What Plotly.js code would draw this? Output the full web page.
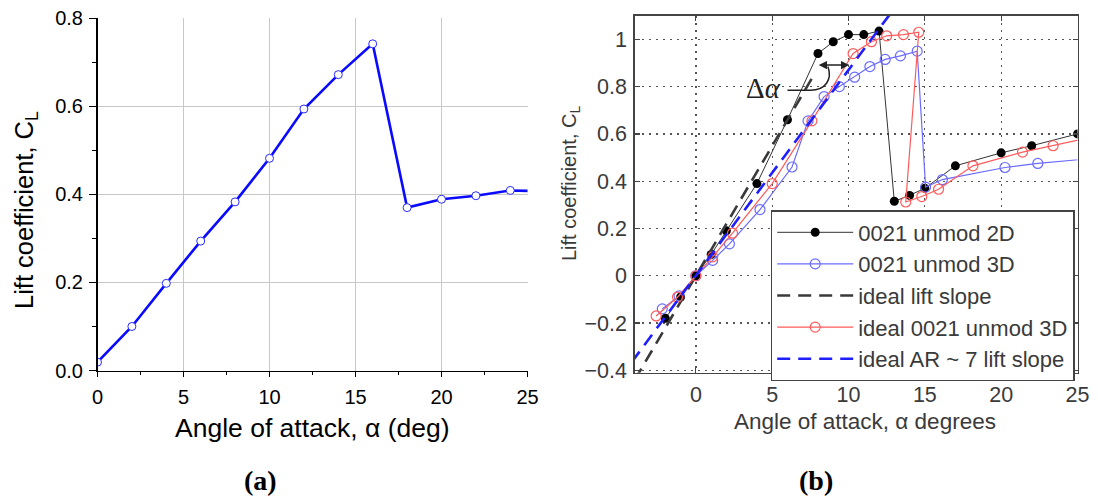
<!DOCTYPE html>
<html>
<head>
<meta charset="utf-8">
<script src="https://cdn.plot.ly/plotly-3.0.1.min.js"></script>
<style>html,body{margin:0;padding:0;background:#fff;}#chart{width:1098px;height:498px;}</style>
</head>
<body>
<div id="chart"></div>
<script>
// ---- Panel (a) data ----
const alphaA = [0, 2, 4, 6, 8, 10, 12, 14, 16, 18, 20, 22, 24, 26];
const clA    = [0.019, 0.100, 0.198, 0.294, 0.383, 0.482, 0.594, 0.672, 0.742, 0.370, 0.389, 0.397, 0.409, 0.407];

// ---- Panel (b) data ----
const alpha2D = [-2, -1, 0, 1, 2, 4, 6, 8, 9, 10, 11, 12, 13, 14, 15, 17, 20, 22, 25];
const cl2D    = [-0.18, -0.09, 0, 0.09, 0.19, 0.39, 0.66, 0.94, 0.99, 1.02, 1.02, 1.035, 0.315, 0.34, 0.37, 0.465, 0.52, 0.55, 0.60];

const alpha3D = [-2.2, -1.1, 0, 1.1, 2.2, 4.2, 6.3, 7.35, 8.4, 9.4, 10.4, 11.4, 12.4, 13.4, 14.5, 15.05, 16.15, 20.25, 22.4, 26.6];
const cl3D    = [-0.14, -0.085, 0, 0.065, 0.135, 0.28, 0.46, 0.655, 0.758, 0.80, 0.84, 0.885, 0.915, 0.93, 0.95, 0.375, 0.407, 0.458, 0.475, 0.50];

const alphaIdeal3D = [-2.6, -1.2, 0, 1.1, 2.4, 5.0, 7.6, 10.3, 11.5, 12.5, 13.6, 14.6, 13.75, 14.8, 15.9, 18.15, 21.4, 23.4, 26.6];
const clIdeal3D    = [-0.17, -0.09, 0, 0.08, 0.18, 0.39, 0.655, 0.94, 0.99, 1.015, 1.02, 1.03, 0.312, 0.335, 0.366, 0.465, 0.523, 0.55, 0.595];

const alphaIdealSlope = [-4, 7.6];
const clIdealSlope    = [-0.44, 0.835];

const alphaAR7 = [-4.2, 12.8];
const clAR7    = [-0.365, 1.114];

const legendNames = ['0021 unmod 2D', '0021 unmod 3D', 'ideal lift slope', 'ideal 0021 unmod 3D', 'ideal AR ~ 7 lift slope'];

const W = 1098, H = 498;
const px = v => v / W;
const py = v => 1 - v / H;

const SANS = 'Liberation Sans, Arial, sans-serif';
const SERIF = 'Liberation Serif, Times New Roman, serif';

const traces = [
  {x: alphaA, y: clA, xaxis: 'x', yaxis: 'y', mode: 'lines+markers', showlegend: false,
   line: {color: '#0a0aff', width: 2.6},
   marker: {symbol: 'circle', size: 8, color: '#ffffff', line: {color: '#2a2aff', width: 1}}},
  {x: alpha2D, y: cl2D, xaxis: 'x2', yaxis: 'y2', mode: 'lines+markers', name: legendNames[0],
   line: {color: '#333333', width: 1},
   marker: {symbol: 'circle', size: 9, color: '#000000'}},
  {x: alpha3D, y: cl3D, xaxis: 'x2', yaxis: 'y2', mode: 'lines+markers', name: legendNames[1],
   line: {color: '#6a6aff', width: 1.2},
   marker: {symbol: 'circle-open', size: 10, color: '#6a6aff', line: {width: 1.2}}},
  {x: alphaIdealSlope, y: clIdealSlope, xaxis: 'x2', yaxis: 'y2', mode: 'lines', name: legendNames[2],
   line: {color: '#3a3a3a', width: 2.6, dash: '13px,8px'}},
  {x: alphaIdeal3D, y: clIdeal3D, xaxis: 'x2', yaxis: 'y2', mode: 'lines+markers', name: legendNames[3],
   line: {color: '#ff5a5a', width: 1.2},
   marker: {symbol: 'circle-open', size: 10, color: '#ff5a5a', line: {width: 1.2}}},
  {x: alphaAR7, y: clAR7, xaxis: 'x2', yaxis: 'y2', mode: 'lines', name: legendNames[4],
   line: {color: '#1e1eff', width: 2.6, dash: '13px,8px'}}
];

const layout = {
  width: W, height: H,
  margin: {l: 0, r: 0, t: 0, b: 0},
  paper_bgcolor: '#ffffff', plot_bgcolor: '#ffffff',
  font: {family: SANS, color: '#000'},
  showlegend: true,
  xaxis: {
    domain: [px(97.5), px(527.5)], range: [0, 25], anchor: 'y',
    tick0: 0, dtick: 5, showgrid: true, gridcolor: '#c8c8c8', gridwidth: 1,
    showline: true, linecolor: '#000', linewidth: 1.5, zeroline: false,
    ticks: 'outside', ticklen: 5, tickwidth: 1.2, tickcolor: '#000',
    minor: {dtick: 2.5, ticks: 'outside', ticklen: 3, tickcolor: '#000', tickwidth: 1.2, showgrid: false},
    tickfont: {size: 20, color: '#000', family: SANS}, ticklabelstandoff: 3
  },
  yaxis: {
    domain: [py(370.5), py(18.3)], range: [0, 0.8], anchor: 'x',
    tick0: 0, dtick: 0.2, tickformat: '.1f', showgrid: true, gridcolor: '#c8c8c8', gridwidth: 1,
    showline: true, linecolor: '#000', linewidth: 1.5, zeroline: false,
    ticks: 'outside', ticklen: 7, tickwidth: 1.2, tickcolor: '#000',
    minor: {dtick: 0.1, ticks: 'outside', ticklen: 4, tickcolor: '#000', tickwidth: 1.2, showgrid: false},
    tickfont: {size: 20, color: '#000', family: SANS}, ticklabelstandoff: 2
  },
  xaxis2: {
    domain: [px(634.8), px(1077.5)], range: [-4, 25], anchor: 'y2',
    tick0: 0, dtick: 5, showgrid: true, gridcolor: '#555', gridwidth: 1.3, griddash: '2px,5px',
    showline: true, linecolor: '#444', linewidth: 1.5, mirror: 'ticks', zeroline: false,
    ticks: 'inside', ticklen: 5, tickcolor: '#444', tickwidth: 1.2,
    tickfont: {size: 21.5, color: '#3a3a3a', family: SANS}, ticklabelstandoff: 2
  },
  yaxis2: {
    domain: [py(372.7), py(15.7)], range: [-0.41, 1.1], anchor: 'x2',
    tick0: 0, dtick: 0.2, showgrid: true, gridcolor: '#555', gridwidth: 1.3, griddash: '2px,5px',
    showline: true, linecolor: '#444', linewidth: 1.5, mirror: 'ticks', zeroline: false,
    ticks: 'inside', ticklen: 5, tickcolor: '#444', tickwidth: 1.2,
    tickfont: {size: 21.5, color: '#3a3a3a', family: SANS}, ticklabelstandoff: 2
  },
  legend: {
    x: px(770.7), y: py(210), xanchor: 'left', yanchor: 'top',
    bgcolor: '#ffffff', bordercolor: '#444', borderwidth: 1.5,
    font: {size: 22, color: '#3a3a3a', family: SANS},
    itemwidth: 76, tracegroupgap: 0
  },
  annotations: [
    {xref: 'paper', yref: 'paper', x: px(312), y: py(428), text: 'Angle of attack, α (deg)',
     showarrow: false, xanchor: 'center', yanchor: 'middle', font: {size: 26.5, color: '#000', family: SANS}},
    {xref: 'paper', yref: 'paper', x: px(26), y: py(210), text: 'Lift coefficient, C<sub>L</sub>',
     textangle: -90, showarrow: false, xanchor: 'center', yanchor: 'middle', font: {size: 25.5, color: '#000', family: SANS}},
    {xref: 'paper', yref: 'paper', x: px(865), y: py(421.7), text: 'Angle of attack, α degrees',
     showarrow: false, xanchor: 'center', yanchor: 'middle', font: {size: 22.5, color: '#3a3a3a', family: SANS}},
    {xref: 'paper', yref: 'paper', x: px(571), y: py(184), text: 'Lift coefficient, C<sub>L</sub>',
     textangle: -90, showarrow: false, xanchor: 'center', yanchor: 'middle', font: {size: 20, color: '#3a3a3a', family: SANS}},
    {xref: 'paper', yref: 'paper', x: px(260.5), y: py(480), text: '<b>(a)</b>',
     showarrow: false, xanchor: 'center', yanchor: 'middle', font: {size: 28, color: '#000', family: SERIF}},
    {xref: 'paper', yref: 'paper', x: px(815.7), y: py(480), text: '<b>(b)</b>',
     showarrow: false, xanchor: 'center', yanchor: 'middle', font: {size: 28, color: '#000', family: SERIF}},
    {xref: 'x2', yref: 'y2', x: 4.45, y: 0.794, text: 'Δ<i>α</i>',
     showarrow: false, xanchor: 'center', yanchor: 'middle', font: {size: 29, color: '#222', family: SERIF}},
    {xref: 'x2', yref: 'y2', x: 10.05, y: 0.891, axref: 'x2', ayref: 'y2', ax: 7.95, ay: 0.891,
     text: '', showarrow: true, arrowside: 'end+start', arrowhead: 2, arrowsize: 1.1, arrowwidth: 1.5, arrowcolor: '#222',
     standoff: 0, startstandoff: 0}
  ],
  shapes: [
    {type: 'path', xref: 'x2', yref: 'y2', path: 'M6.0,0.785 L7.5,0.785 C8.5,0.785 8.95,0.83 8.65,0.885',
     line: {color: '#222', width: 1.5}}
  ]
};

Plotly.newPlot('chart', traces, layout, {displayModeBar: false, staticPlot: true});
</script>
</body>
</html>
